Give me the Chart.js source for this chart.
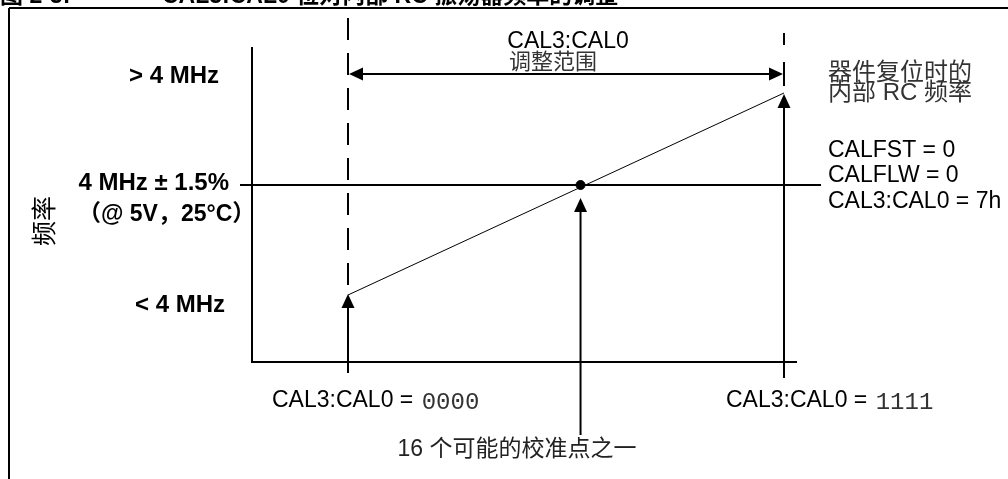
<!DOCTYPE html>
<html>
<head>
<meta charset="utf-8">
<script src="https://cdn.jsdelivr.net/npm/chart.js@4.4.1/dist/chart.umd.min.js"></script>
<style>
  body { margin: 0; background: #fff; }
  canvas { display: block; }
</style>
</head>
<body>
<canvas id="calChart" width="1008" height="479"></canvas>
<script>
// CAL3:CAL0 code range and the resulting internal RC frequency (MHz)
var calCodes = [0, 15];
var rcFreq = [3.89, 4.092];
// the one calibration point sitting on the nominal frequency
var calPoint = [8];
var calPointFreq = [4.0];
var nominalFreq = 4.0;

// frequency axis labels
var freqTickValues = [4.109, 4.002, 3.88];
var freqTickLabels = ['> 4 MHz', '4 MHz ± 1.5%', '< 4 MHz'];
var freqSubLabel = '（@ 5V，25°C）';

// code axis labels
var codeTickValues = [0, 15];
var codeTickPrefix = ['CAL3:CAL0 = ', 'CAL3:CAL0 = '];
var codeTickBits = ['0000', '1111'];

var latin = '"Liberation Sans", Arial, "Noto Sans CJK SC"';
var cjk = '"Liberation Sans", "Noto Sans CJK SC"';

function head(ctx, x, y, dir) {
    var L = 14, W = 6.5;
    ctx.beginPath();
    ctx.moveTo(x, y);
    if (dir === 'up') { ctx.lineTo(x - W, y + L); ctx.lineTo(x + W, y + L); }
    if (dir === 'left') { ctx.lineTo(x + L, y - W); ctx.lineTo(x + L, y + W); }
    if (dir === 'right') { ctx.lineTo(x - L, y - W); ctx.lineTo(x - L, y + W); }
    ctx.closePath();
    ctx.fill();
}

function seg(ctx, x1, y1, x2, y2, w) {
    ctx.lineWidth = w || 2;
    ctx.beginPath();
    ctx.moveTo(x1, y1);
    ctx.lineTo(x2, y2);
    ctx.stroke();
}

var diagram = {
    id: 'diagram',
    beforeDatasetsDraw: function (chart) {
        var ctx = chart.ctx, a = chart.chartArea;
        var xs = chart.scales.x, ys = chart.scales.y;
        var x0 = xs.getPixelForValue(calCodes[0]);
        var x1 = xs.getPixelForValue(calCodes[1]);
        var xp = xs.getPixelForValue(calPoint[0]);
        var yN = ys.getPixelForValue(nominalFreq);
        var yLo = ys.getPixelForValue(rcFreq[0]);
        var yHi = ys.getPixelForValue(rcFreq[1]);
        ctx.save();
        ctx.strokeStyle = '#000';
        ctx.fillStyle = '#000';

        // page frame
        seg(ctx, 9, 8, 1008, 8, 2);
        seg(ctx, 9, 8, 9, 479, 2);

        // axes
        seg(ctx, a.left, a.top, a.left, a.bottom + 1, 2);
        seg(ctx, a.left, a.bottom, a.right, a.bottom, 2);

        // nominal frequency line
        seg(ctx, a.left - 12, yN, a.right + 24, yN, 2);

        // dashed range limits
        ctx.setLineDash([22, 13]);
        seg(ctx, x0, 18, x0, yLo - 4, 2);
        ctx.setLineDash([12, 17, 24, 40]);
        seg(ctx, x1, 33, x1, 86, 2);
        ctx.setLineDash([]);

        // adjustment range arrow
        var yr = 74;
        seg(ctx, x0 + 4, yr, x1 - 4, yr, 2);
        head(ctx, x0 + 1, yr, 'left');
        head(ctx, x1 - 1, yr, 'right');

        // upward pointers
        seg(ctx, x0, yLo + 10, x0, a.bottom + 11, 2);
        head(ctx, x0, yLo - 1, 'up');
        seg(ctx, x1, yHi + 10, x1, a.bottom + 16, 2);
        head(ctx, x1, yHi + 1, 'up');
        seg(ctx, xp, yN + 20, xp, 435, 2);
        head(ctx, xp, yN + 13, 'up');
        ctx.restore();
    },
    afterDatasetsDraw: function (chart) {
        var ctx = chart.ctx, a = chart.chartArea;
        var xs = chart.scales.x, ys = chart.scales.y;
        var x0 = xs.getPixelForValue(calCodes[0]);
        var x1 = xs.getPixelForValue(calCodes[1]);
        var xp = xs.getPixelForValue(calPoint[0]);
        ctx.save();
        ctx.fillStyle = '#000';

        // title, clipped at the top edge
        ctx.font = 'bold 23px ' + cjk;
        ctx.textBaseline = 'alphabetic';
        ctx.textAlign = 'left';
        ctx.fillText('图 2-3:', 0, 3);
        ctx.fillText('CAL3:CAL0 位对内部 RC 振荡器频率的调整', 162, 3);
        ctx.textBaseline = 'middle';

        // frequency labels
        ctx.font = 'bold 24px ' + latin;
        ctx.textAlign = 'right';
        ctx.fillText(freqTickLabels[0], 219, ys.getPixelForValue(freqTickValues[0]));
        ctx.fillText(freqTickLabels[1], 229, ys.getPixelForValue(freqTickValues[1]));
        ctx.fillText(freqTickLabels[2], 225, ys.getPixelForValue(freqTickValues[2]));
        ctx.textAlign = 'left';
        ctx.font = 'bold 23px ' + latin;
        ctx.fillText(freqSubLabel, 78, 215);

        // axis title
        ctx.save();
        ctx.translate(43, 221);
        ctx.rotate(-Math.PI / 2);
        ctx.textAlign = 'center';
        ctx.font = '25px "Noto Sans CJK SC"';
        ctx.fillText('频率', 0, 0);
        ctx.restore();

        // range caption
        var xm = (x0 + x1) / 2;
        ctx.textAlign = 'center';
        ctx.font = '23px ' + latin;
        ctx.fillText('CAL3:CAL0', xm + 2, 42);
        ctx.fillStyle = '#333';
        ctx.font = '22px "Noto Sans CJK SC"';
        ctx.fillText('调整范围', xm - 13, 61);

        // reset notes on the right
        ctx.textAlign = 'left';
        ctx.font = '24px ' + cjk;
        ctx.fillText('器件复位时的', 828, 73);
        ctx.fillText('内部 RC 频率', 828, 93);
        ctx.fillStyle = '#000';
        ctx.font = '23px ' + latin;
        ctx.fillText('CALFST = 0', 828, 151);
        ctx.fillText('CALFLW = 0', 828, 176);
        ctx.fillText('CAL3:CAL0 = 7h', 828, 202);

        // code labels under the axis
        var starts = [x0 - 76, x1 - 58];
        for (var i = 0; i < codeTickValues.length; i++) {
            var sx = starts[i];
            ctx.fillStyle = '#000';
            ctx.font = '23px ' + latin;
            ctx.fillText(codeTickPrefix[i], sx, 401);
            var w = ctx.measureText(codeTickPrefix[i]).width;
            ctx.fillStyle = '#333';
            ctx.font = '24px "Liberation Mono", monospace';
            ctx.fillText(codeTickBits[i], sx + w + 2, 403);
        }

        // calibration point note
        ctx.fillStyle = '#222';
        ctx.font = '23px ' + cjk;
        ctx.fillText('16 个可能的校准点之一', xp - 183, 450);
        ctx.restore();
    }
};

var pxPerCode = 436 / 15;
new Chart(document.getElementById('calChart'), {
    type: 'scatter',
    data: {
        datasets: [{
            data: calCodes.map(function (c, i) { return { x: c, y: rcFreq[i] }; }),
            showLine: true,
            borderColor: '#000',
            borderWidth: 1,
            pointRadius: 0
        }, {
            data: calPoint.map(function (c, i) { return { x: c, y: calPointFreq[i] }; }),
            backgroundColor: '#000',
            borderColor: '#000',
            pointRadius: 4.5
        }]
    },
    options: {
        responsive: false,
        animation: false,
        layout: { padding: { left: 252, right: 211, top: 47, bottom: 117 } },
        plugins: { legend: { display: false }, tooltip: { enabled: false } },
        scales: {
            x: { type: 'linear', display: false, min: -96 / pxPerCode, max: 15 + 13 / pxPerCode },
            y: { type: 'linear', display: false, min: 3.823, max: 4.138 }
        }
    },
    plugins: [diagram]
});
</script>
</body>
</html>
